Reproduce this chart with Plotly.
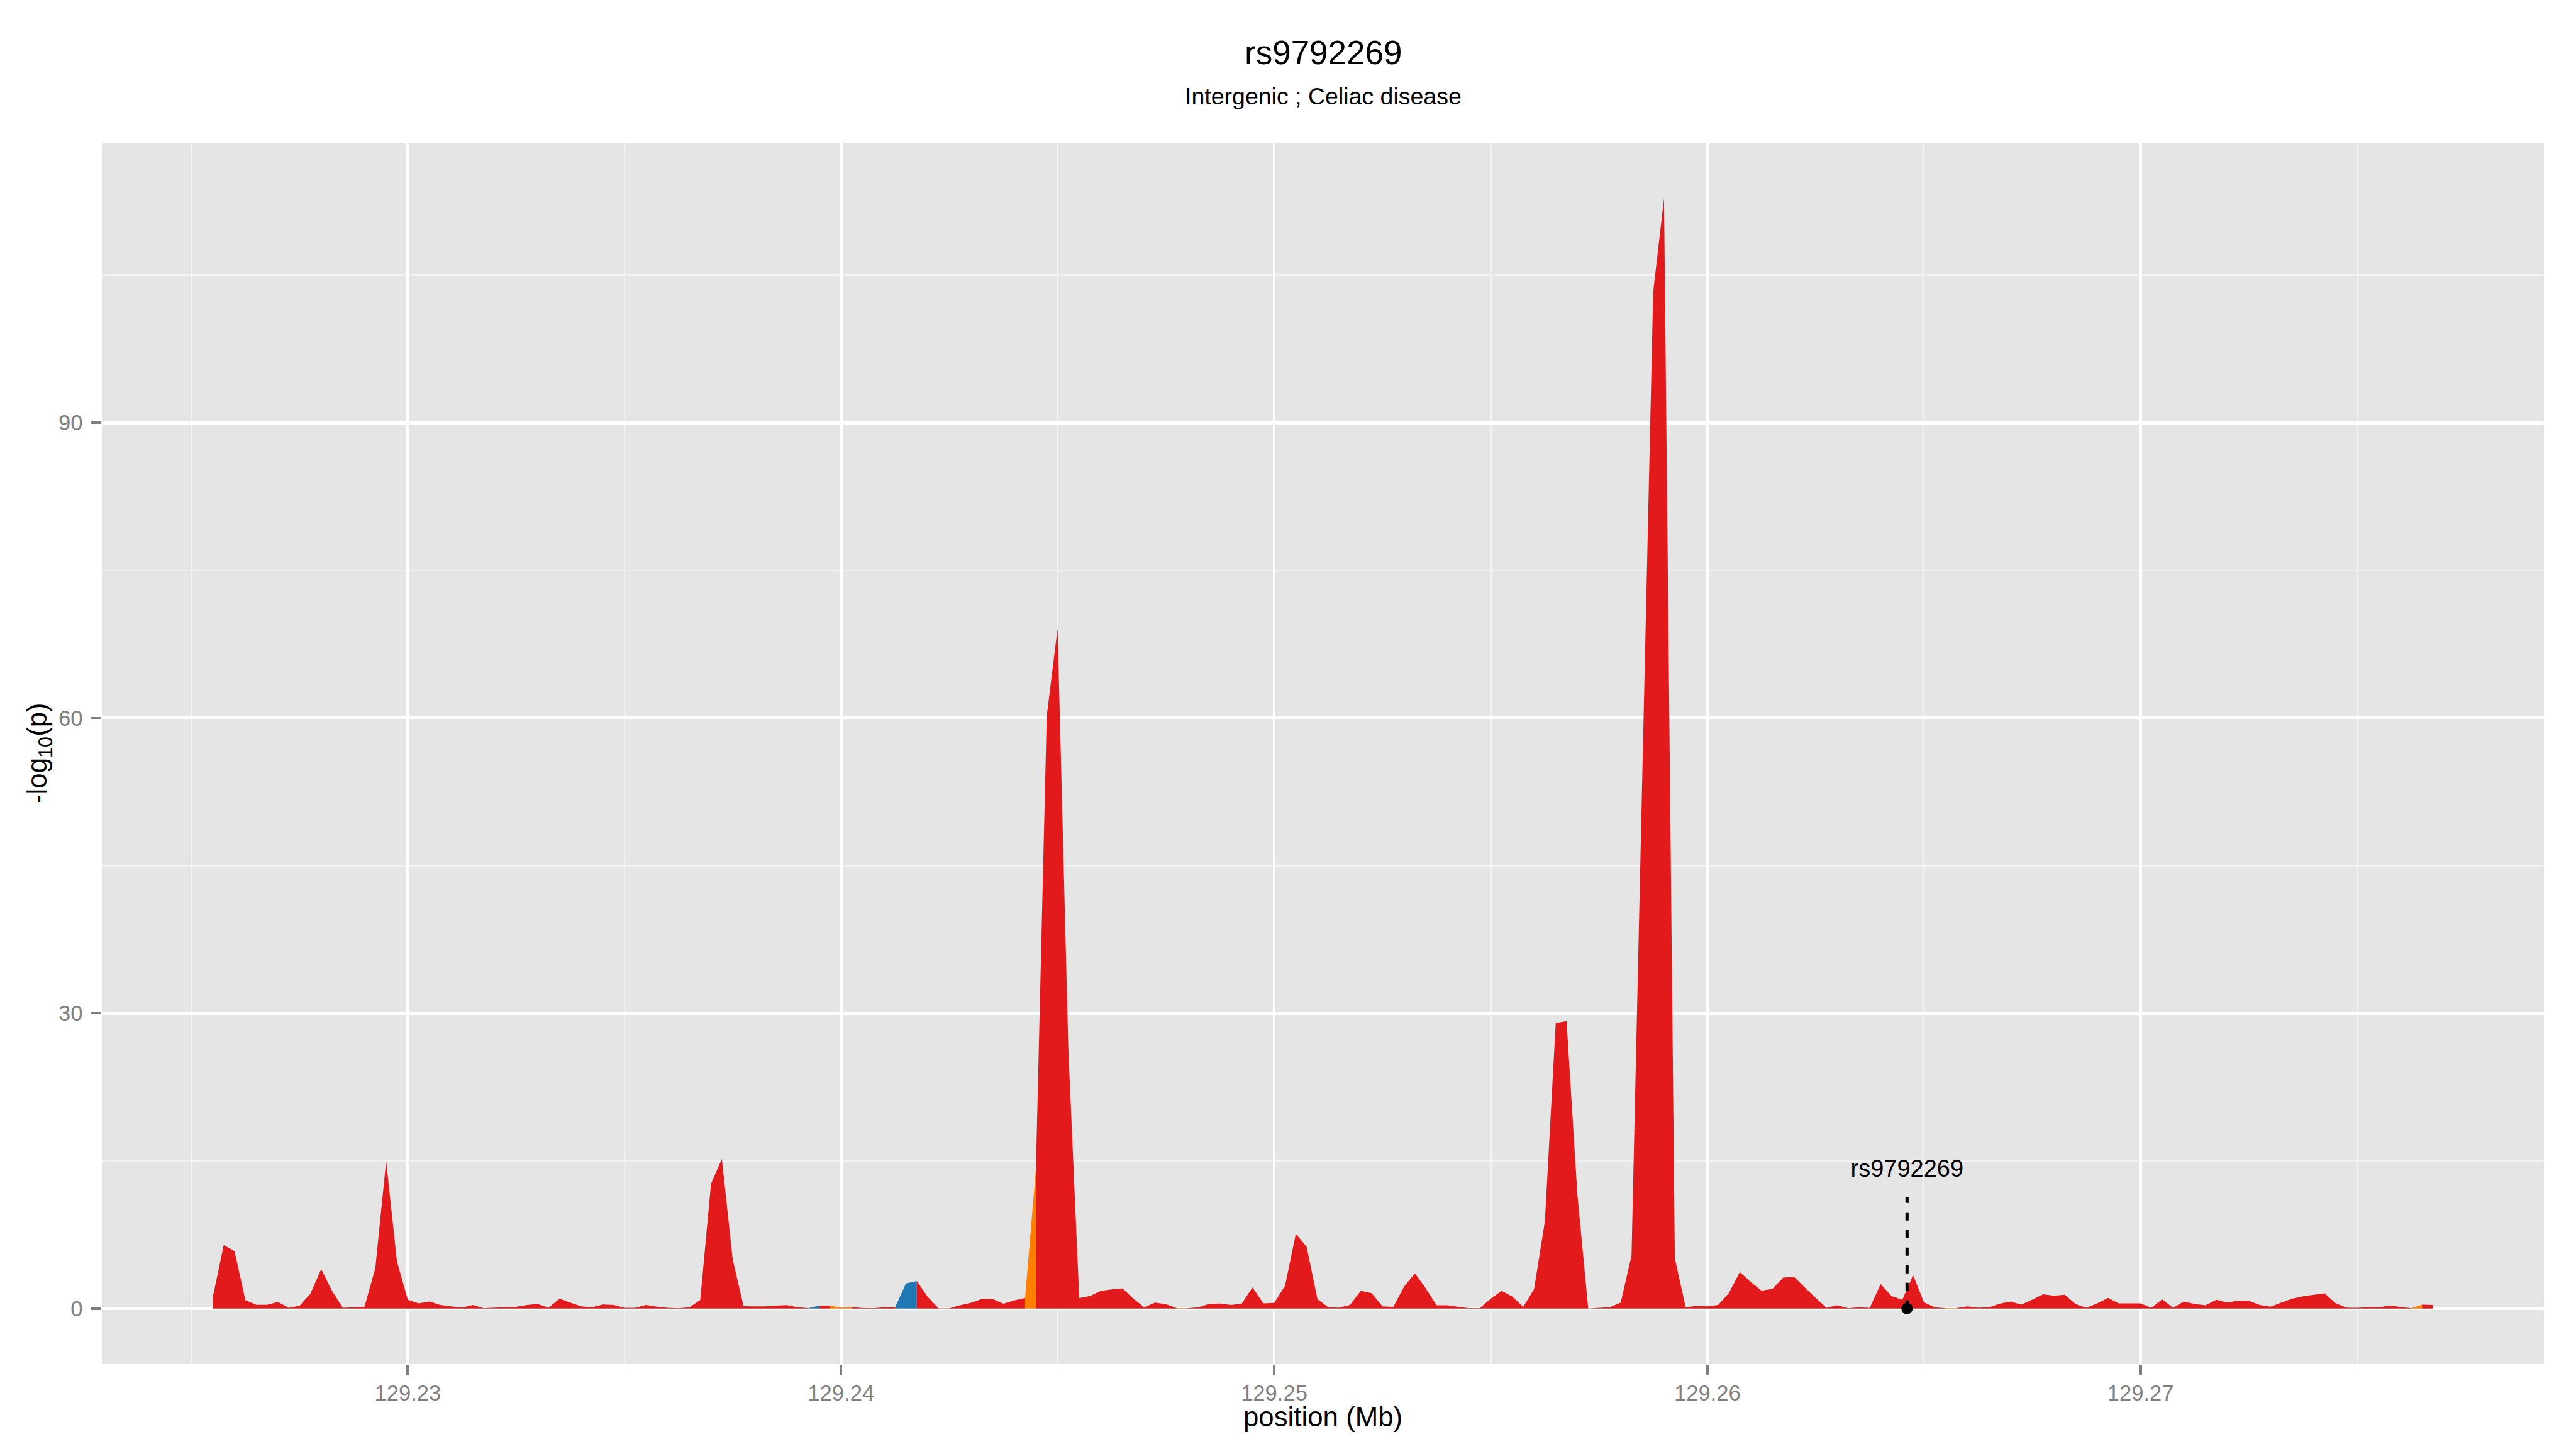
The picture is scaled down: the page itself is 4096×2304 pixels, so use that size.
import plotly.graph_objects as go

# ---------------- data ----------------
position_mb = [
    129.2255, 129.22575, 129.226, 129.22625, 129.2265, 129.22675, 129.227, 129.22725,
    129.2275, 129.22775, 129.228, 129.22825, 129.2285, 129.22875, 129.229, 129.22925,
    129.2295, 129.22975, 129.23, 129.23025, 129.2305, 129.23075, 129.231, 129.23125,
    129.2315, 129.23175, 129.232, 129.23225, 129.2325, 129.23275, 129.233, 129.23325,
    129.2335, 129.23375, 129.234, 129.23425, 129.2345, 129.23475, 129.235, 129.23525,
    129.2355, 129.23575, 129.236, 129.23625, 129.2365, 129.23675, 129.237, 129.23725,
    129.2375, 129.23775, 129.238, 129.23825, 129.2385, 129.23875, 129.239, 129.23925,
    129.2395, 129.23975, 129.24, 129.24025, 129.2405, 129.24075, 129.241, 129.24125,
    129.2415, 129.24175, 129.242, 129.24225, 129.2425, 129.24275, 129.243, 129.24325,
    129.2435, 129.24375, 129.244, 129.24425, 129.2445, 129.24475, 129.245, 129.24525,
    129.2455, 129.24575, 129.246, 129.24625, 129.2465, 129.24675, 129.247, 129.24725,
    129.2475, 129.24775, 129.248, 129.24825, 129.2485, 129.24875, 129.249, 129.24925,
    129.2495, 129.24975, 129.25, 129.25025, 129.2505, 129.25075, 129.251, 129.25125,
    129.2515, 129.25175, 129.252, 129.25225, 129.2525, 129.25275, 129.253, 129.25325,
    129.2535, 129.25375, 129.254, 129.25425, 129.2545, 129.25475, 129.255, 129.25525,
    129.2555, 129.25575, 129.256, 129.25625, 129.2565, 129.25675, 129.257, 129.25725,
    129.2575, 129.25775, 129.258, 129.25825, 129.2585, 129.25875, 129.259, 129.25925,
    129.2595, 129.25975, 129.26, 129.26025, 129.2605, 129.26075, 129.261, 129.26125,
    129.2615, 129.26175, 129.262, 129.26225, 129.2625, 129.26275, 129.263, 129.26325,
    129.2635, 129.26375, 129.264, 129.26425, 129.2645, 129.26475, 129.265, 129.26525,
    129.2655, 129.26575, 129.266, 129.26625, 129.2665, 129.26675, 129.267, 129.26725,
    129.2675, 129.26775, 129.268, 129.26825, 129.2685, 129.26875, 129.269, 129.26925,
    129.2695, 129.26975, 129.27, 129.27025, 129.2705, 129.27075, 129.271, 129.27125,
    129.2715, 129.27175, 129.272, 129.27225, 129.2725, 129.27275, 129.273, 129.27325,
    129.2735, 129.27375, 129.274, 129.27425, 129.2745, 129.27475, 129.275, 129.27525,
    129.2755, 129.27575, 129.276, 129.27625, 129.2765, 129.27675,
]

neg_log10_p = [
    1.19, 6.45, 5.84, 0.86, 0.38, 0.38, 0.67, 0.08,
    0.29, 1.5, 4.0, 1.8, 0.08, 0.13, 0.19, 4.1,
    15.0, 4.77, 0.9, 0.52, 0.71, 0.36, 0.23, 0.1,
    0.36, 0.04, 0.1, 0.13, 0.17, 0.36, 0.46, 0.08,
    1.0, 0.6, 0.23, 0.13, 0.42, 0.36, 0.08, 0.08,
    0.36, 0.19, 0.08, 0.04, 0.13, 0.86, 12.7, 15.2,
    5.0, 0.24, 0.22, 0.22, 0.31, 0.35, 0.13, 0.05,
    0.29, 0.31, 0.09, 0.15, 0.07, 0.05, 0.13, 0.13,
    2.56, 2.8, 1.2, 0.03, 0.03, 0.34, 0.59, 0.98,
    0.98, 0.49, 0.83, 1.07, 14.2, 60.2, 69.1, 26.2,
    1.07, 1.27, 1.8, 1.95, 2.05, 1.0, 0.13, 0.6,
    0.45, 0.05, 0.05, 0.13, 0.47, 0.51, 0.36, 0.49,
    2.15, 0.53, 0.58, 2.3, 7.6, 6.26, 0.96, 0.13,
    0.09, 0.36, 1.8, 1.57, 0.23, 0.17, 2.24, 3.58,
    2.05, 0.33, 0.33, 0.17, 0.04, 0.04, 1.0, 1.8,
    1.22, 0.17, 1.98, 8.9, 29.0, 29.2, 11.6, 0.02,
    0.08, 0.15, 0.6, 5.4, 54.5, 103.3, 112.8, 5.1,
    0.13, 0.27, 0.23, 0.36, 1.6, 3.71, 2.7, 1.82,
    2.0, 3.14, 3.23, 2.14, 1.09, 0.08, 0.33, 0.04,
    0.13, 0.08, 2.49, 1.28, 0.9, 3.39, 0.64, 0.13,
    0.05, 0.05, 0.22, 0.09, 0.13, 0.49, 0.71, 0.4,
    0.91, 1.45, 1.31, 1.4, 0.46, 0.08, 0.52, 1.09,
    0.52, 0.52, 0.52, 0.08, 0.94, 0.08, 0.71, 0.46,
    0.33, 0.9, 0.61, 0.8, 0.8, 0.36, 0.19, 0.61,
    1.0, 1.25, 1.4, 1.55, 0.55, 0.09, 0.08, 0.15,
    0.13, 0.31, 0.16, 0.04, 0.4, 0.36,
]

# LD class of each segment (segment i joins point i and point i+1); others are "high"
blue_segments = [55, 63, 64]
orange_segments = [57, 58, 75, 89, 160, 203]

snp_id = "rs9792269"
snp_position_mb = 129.26461
snp_value = 0.0

title_text = "rs9792269"
subtitle_text = "Intergenic ; Celiac disease"
x_title = "position (Mb)"
y_title = "-log<sub>10</sub>(p)"

x_tick_values = [129.23, 129.24, 129.25, 129.26, 129.27]
x_tick_labels = ["129.23", "129.24", "129.25", "129.26", "129.27"]
y_tick_values = [0, 30, 60, 90]
y_tick_labels = ["0", "30", "60", "90"]

# ---------------- style ----------------
W, H = 4096, 2304
FONT = "Liberation Sans, Arial, Helvetica, sans-serif"
class_colors = {"high": "#E31A1C", "mid": "#FF7F00", "low": "#1F78B4"}

ML, MR, MT, MB = 162, 51, 227, 135
plot_w = W - ML - MR
plot_h = H - MT - MB

def seg_class(i):
    if i in blue_segments:
        return "low"
    if i in orange_segments:
        return "mid"
    return "high"

n = len(position_mb)
runs = []
start = 0
for i in range(1, n - 1):
    if seg_class(i) != seg_class(start):
        runs.append((start, i - 1))
        start = i
runs.append((start, n - 2))

fig = go.Figure()
for a, b in runs:
    cls = seg_class(a)
    fig.add_trace(go.Scatter(
        x=position_mb[a:b + 2], y=neg_log10_p[a:b + 2],
        mode="none", fill="tozeroy", fillcolor=class_colors[cls],
        hoverinfo="skip", showlegend=False,
    ))

# SNP marker: dashed line, point, label
label_line_top = 11.3
label_y = 14.0
fig.add_trace(go.Scatter(
    x=[snp_position_mb, snp_position_mb], y=[snp_value, label_line_top],
    mode="lines", line=dict(color="black", width=5, dash="13px,15px"),
    showlegend=False, hoverinfo="skip",
))
fig.add_trace(go.Scatter(
    x=[snp_position_mb], y=[snp_value], mode="markers",
    marker=dict(color="black", size=18), showlegend=False, hoverinfo="skip",
))
fig.add_trace(go.Scatter(
    x=[snp_position_mb], y=[label_y], mode="text", text=[snp_id],
    textposition="middle center",
    textfont=dict(family=FONT, size=38, color="black"),
    showlegend=False, hoverinfo="skip",
))

xmin, xmax = min(position_mb), max(position_mb)
xspan = xmax - xmin
ymax = max(neg_log10_p)

fig.update_layout(
    width=W, height=H,
    margin=dict(l=ML, r=MR, t=MT, b=MB, pad=0),
    paper_bgcolor="white", plot_bgcolor="#E5E5E5",
    showlegend=False,
    font=dict(family=FONT, color="black"),
)
fig.update_xaxes(
    range=[xmin - 0.05 * xspan, xmax + 0.05 * xspan],
    tickvals=x_tick_values, ticktext=x_tick_labels,
    showgrid=True, gridcolor="white", gridwidth=4.8,
    zeroline=False, showline=False,
    ticks="outside", ticklen=15.6, tickwidth=4.3, tickcolor="#7F7F7F",
    tickfont=dict(family=FONT, size=34.6, color="#7F7F7F"),
    minor=dict(dtick=0.005, tick0=129.225, showgrid=True, gridcolor="#F2F2F2", gridwidth=2.4, ticklen=0),
)
fig.update_yaxes(
    range=[-0.05 * ymax, 1.05 * ymax],
    tickvals=y_tick_values, ticktext=y_tick_labels,
    showgrid=True, gridcolor="white", gridwidth=4.8,
    zeroline=False, showline=False,
    ticks="outside", ticklen=15.6, tickwidth=4.3, tickcolor="#7F7F7F",
    tickfont=dict(family=FONT, size=34.6, color="#7F7F7F"),
    ticklabelstandoff=7,
    minor=dict(dtick=15, tick0=0, showgrid=True, gridcolor="#F2F2F2", gridwidth=2.4, ticklen=0),
)

def py(px):
    return 1 - (px - MT) / plot_h

fig.add_annotation(text=title_text, x=0.5, y=py(83), xref="paper", yref="paper",
                   xanchor="center", yanchor="middle", showarrow=False,
                   font=dict(family=FONT, size=53, color="black"))
fig.add_annotation(text=subtitle_text, x=0.5, y=py(153), xref="paper", yref="paper",
                   xanchor="center", yanchor="middle", showarrow=False,
                   font=dict(family=FONT, size=37.5, color="black"))
fig.add_annotation(text=x_title, x=0.5, y=py(2252), xref="paper", yref="paper",
                   xanchor="center", yanchor="middle", showarrow=False,
                   font=dict(family=FONT, size=43.8, color="black"))
fig.add_annotation(text=y_title, x=(61 - ML) / plot_w, y=0.5, xref="paper", yref="paper",
                   xanchor="center", yanchor="middle", showarrow=False, textangle=-90,
                   font=dict(family=FONT, size=43.8, color="black"))

fig.write_html(
    "out.html",
    config={"displayModeBar": False, "staticPlot": True},
    post_script="document.body.style.margin='0';document.body.style.padding='0';document.body.style.overflow='hidden';",
)
